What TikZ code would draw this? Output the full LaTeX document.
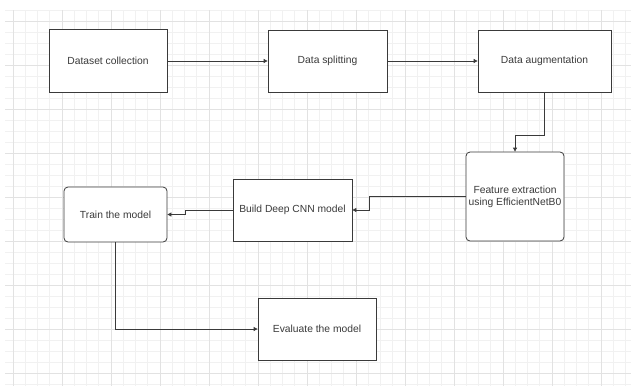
\documentclass[tikz,border=0pt]{standalone}
\usepackage{fontspec}
\setmainfont{Liberation Sans}
\usetikzlibrary{arrows.meta}
\definecolor{minorg}{HTML}{F1F1F1}
\definecolor{majorg}{HTML}{E2E2E2}
\definecolor{edgec}{HTML}{3A3A3A}
\definecolor{txtc}{HTML}{3A3A3A}
\begin{document}
\begin{tikzpicture}[x=1pt,y=-1pt,
  box/.style={draw=edgec,line width=0.8pt,fill=white,inner sep=0pt,
    font=\fontsize{10.3}{11.7}\selectfont,text=txtc,align=center},
  rbox/.style={box,rounded corners=4pt},
  link/.style={draw=edgec,line width=0.8pt,-{Triangle[length=4pt,width=4pt]}}]
\fill[white] (0,0) rectangle (631,386);
\useasboundingbox (0,0) rectangle (631,386);
% grid
\begin{scope}
\clip (5,10) rectangle (631,386);
\foreach \i in {0,...,51}{\pgfmathsetmacro\xx{0.75+12.25*\i}
  \draw[minorg,line width=0.7pt] (\xx,10) -- (\xx,386);}
\foreach \i in {0,...,34}{\pgfmathsetmacro\yy{10+11*\i}
  \draw[minorg,line width=0.7pt] (5,\yy) -- (631,\yy);}
\foreach \i in {0,...,12}{\pgfmathsetmacro\xx{13+49*\i}
  \draw[majorg,line width=0.8pt] (\xx,10) -- (\xx,386);}
\foreach \i in {0,...,8}{\pgfmathsetmacro\yy{21+44*\i}
  \draw[majorg,line width=0.8pt] (5,\yy) -- (631,\yy);}
\end{scope}
% nodes
\node[box,minimum width=118pt,minimum height=63pt] (ds) at (108,61) {Dataset collection};
\node[box,minimum width=119pt,minimum height=62pt] (split) at (327.5,61) {Data splitting};
\node[box,minimum width=133pt,minimum height=62pt] (aug) at (544.5,61) {Data augmentation};
\node[rbox,minimum width=98pt,minimum height=89pt] (feat) at (515,196.5) {Feature extraction\\using EfficientNetB0};
\node[box,minimum width=119pt,minimum height=62pt] (build) at (292.5,210) {Build Deep CNN model};
\node[rbox,minimum width=103pt,minimum height=55pt] (train) at (115.5,214.5) {Train the model};
\node[box,minimum width=118pt,minimum height=62pt] (eval) at (317,329) {Evaluate the model};
% connectors
\draw[link] (ds.east) -- (split.west);
\draw[link] (split.east) -- (aug.west);
\draw[link] (aug.south) -- ++(0,43) -| (feat.north);
\draw[link] (feat.west) -- ++(-96,0) |- (build.east);
\draw[link] (build.west) -- ++(-47,0) |- (train.east);
\draw[link] (train.south) |- (eval.west);
\end{tikzpicture}
\end{document}
